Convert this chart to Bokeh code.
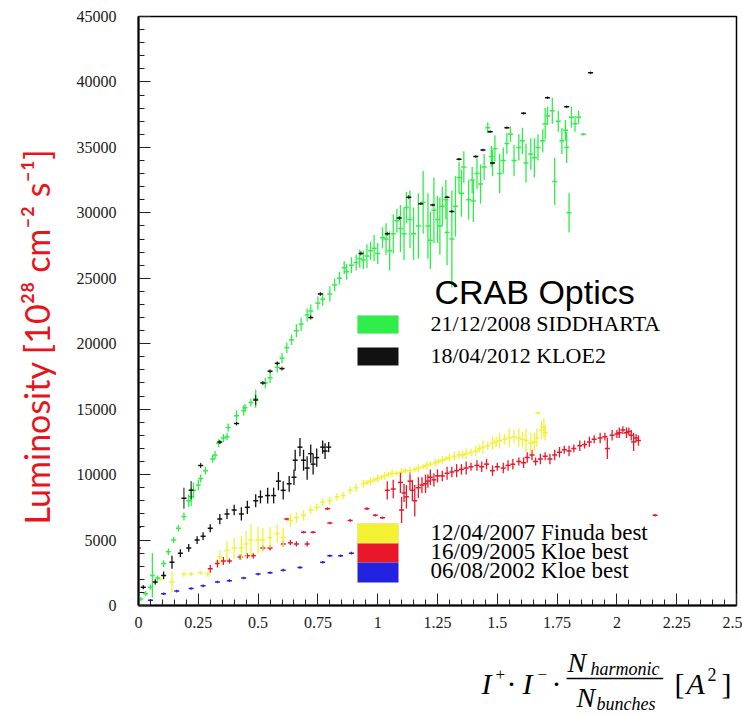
from bokeh.plotting import figure
from bokeh.models import ColumnDataSource, Label, BoxAnnotation, FixedTicker
from bokeh.layouts import row, column
from bokeh.embed import file_html
from bokeh.resources import INLINE
import math

# ---------------- data ----------------
x_ticks = [0.0, 0.25, 0.5, 0.75, 1.0, 1.25, 1.5, 1.75, 2.0, 2.25, 2.5]
x_tick_labels = ["0", "0.25", "0.5", "0.75", "1", "1.25", "1.5", "1.75", "2", "2.25", "2.5"]
y_ticks = [0, 5000, 10000, 15000, 20000, 25000, 30000, 35000, 40000, 45000]
y_tick_labels = ["0", "5000", "10000", "15000", "20000", "25000", "30000", "35000", "40000", "45000"]

# 21/12/2008 SIDDHARTA (green)
sid_x = [0.01, 0.03, 0.05, 0.058, 0.08, 0.105, 0.125, 0.147, 0.167, 0.19, 0.21, 0.22, 0.23, 0.25, 0.26,
         0.28, 0.31, 0.32, 0.335, 0.355, 0.37, 0.375, 0.41, 0.44, 0.445, 0.47, 0.49, 0.53, 0.55, 0.58,
         0.60, 0.62, 0.64, 0.66, 0.68, 0.705, 0.72, 0.75, 0.77, 0.80, 0.82, 0.84, 0.87, 0.91, 0.94,
         0.97, 1.00, 1.02, 1.05, 1.08, 1.11, 1.12, 1.15, 1.19, 1.21, 1.22, 1.25, 1.27, 1.29, 1.31,
         1.34, 1.36, 1.38, 1.40, 1.43, 1.46, 1.48, 1.49, 1.51, 1.54, 1.57, 1.59, 1.62, 1.64, 1.67,
         1.69, 1.71, 1.73, 1.74, 1.77, 1.79, 1.80, 1.81, 1.84, 1.86,
         0.86, 0.89, 0.925, 0.955, 0.985, 1.035, 1.065, 1.095, 1.135, 1.17, 1.235, 1.26, 1.285, 1.325,
         1.35, 1.395, 1.415, 1.445, 1.475, 1.525, 1.555, 1.605, 1.655, 1.70, 1.755, 1.785, 1.825]
sid_y = [500, 900, 1400, 2300, 2100, 3200, 4100, 5000, 5900, 6800, 8000, 8300, 8800, 9200, 9700,
         10300, 11200, 11500, 12400, 12800, 12900, 13600, 14500, 14900, 15100, 15500, 15800, 17000, 17400, 18200,
         18900, 19700, 20300, 21000, 21500, 22200, 22500, 23100, 23400, 23800, 24500, 25000, 25500, 26200, 26400,
         27100, 26900, 28100, 27100, 29400, 28400, 30400, 28400, 30800, 29000, 27900, 29500, 30500, 28500, 28000,
         32700, 33500, 31000, 30900, 32200, 36500, 33800, 34900, 33000, 35300, 34000, 35000, 33800, 34500, 35000,
         35500, 37400, 37800, 32400, 35500, 35000, 30000, 37300, 37300, 36000,
         25800, 26000, 26500, 26700, 27300, 28000, 28400, 28800, 29500, 29000, 30200, 29000, 31000, 30500,
         31500, 32500, 33000, 33500, 34300, 34000, 36000, 35500, 34200, 36800, 37000, 36300, 36800]
sid_err = [150, 200, 200, 1700, 200, 250, 250, 250, 250, 300, 500, 700, 600, 400, 300,
           300, 300, 300, 300, 300, 300, 300, 400, 400, 300, 300, 700, 400, 400, 400,
           400, 400, 400, 500, 500, 500, 500, 500, 500, 600, 500, 500, 600, 600, 700,
           700, 800, 800, 1500, 900, 2000, 1200, 2000, 2400, 2500, 2200, 1800, 1500, 2500, 3700,
           1200, 1200, 1500, 1600, 1500, 400, 1000, 1000, 1500, 800, 1200, 1000, 1500, 1200, 1000,
           900, 700, 1000, 1800, 1000, 1200, 1500, 800, 500, 100,
           500, 600, 700, 900, 1000, 1200, 1500, 1800, 2200, 2500, 2500, 2200, 1500, 2300,
           1800, 1000, 1200, 1000, 800, 1000, 600, 1000, 1500, 1200, 800, 800, 600]

# 18/04/2012 KLOE2 (black) - lower curve
kloe2_x = [0.0, 0.02, 0.07, 0.105, 0.14, 0.175, 0.21, 0.245, 0.27, 0.30, 0.34, 0.37, 0.40, 0.43, 0.455,
           0.49, 0.51, 0.54, 0.565, 0.585, 0.605, 0.63, 0.65, 0.655, 0.675, 0.69, 0.705, 0.72, 0.73,
           0.745, 0.77, 0.78, 0.795]
kloe2_y = [6000, 1400, 1800, 2300, 3300, 4000, 4400, 5000, 5300, 5900, 6600, 7000, 7300, 7000, 7500,
           8000, 8300, 8400, 8400, 9500, 8800, 9300, 9800, 11100, 12100, 11100, 10500, 11600, 10800,
           11300, 12100, 11800, 12100]
kloe2_err = [1000, 150, 200, 300, 500, 300, 300, 300, 300, 300, 400, 400, 400, 500, 500,
             500, 500, 600, 600, 700, 700, 600, 600, 800, 700, 800, 900, 700, 800,
             700, 500, 600, 400]
# 18/04/2012 KLOE2 (black) - markers along the SIDDHARTA curve
kloe2b_x = [0.19, 0.22, 0.26, 0.34, 0.41, 0.49, 0.52, 0.55, 0.58, 0.60, 0.72, 0.76, 0.93, 1.04, 1.09,
            1.13, 1.18, 1.23, 1.29, 1.31, 1.34, 1.41, 1.44, 1.47, 1.48, 1.54, 1.61, 1.71, 1.79, 1.89]
kloe2b_y = [8200, 8800, 10700, 12500, 13900, 15700, 17000, 17900, 18500, 18100, 22000, 23800, 26900, 28400, 29600,
            31200, 30700, 30600, 31200, 30100, 34100, 34300, 34800, 36200, 33800, 36500, 37600, 38800, 38100, 40700]
kloe2b_err = [800, 700, 200, 150, 150, 400, 150, 150, 150, 150, 150, 150, 150, 150, 150,
              150, 100, 100, 100, 100, 100, 100, 100, 100, 100, 100, 100, 100, 100, 100]

# 12/04/2007 Finuda best (yellow)
fin_x = [0.09, 0.14, 0.19, 0.22, 0.26, 0.29, 0.34, 0.37, 0.40, 0.43, 0.45, 0.47, 0.50, 0.52, 0.55,
         0.58, 0.605, 0.635, 0.66, 0.69, 0.72, 0.745, 0.77, 0.80, 0.83, 0.855, 0.885, 0.91, 0.94, 0.97,
         1.00, 1.03, 1.06, 1.10, 1.135, 1.17, 1.205, 1.24, 1.27, 1.30, 1.34, 1.37, 1.41, 1.44, 1.48,
         1.51, 1.55, 1.59, 1.62, 1.64, 1.665, 1.685, 1.67, 1.70,
         0.955, 0.985, 1.015, 1.045, 1.08, 1.115, 1.155, 1.19, 1.22, 1.255, 1.285, 1.32, 1.355, 1.39,
         1.425, 1.46, 1.495, 1.53, 1.57, 1.605, 1.655, 1.695]
fin_y = [2000, 1800, 2400, 2400, 2500, 2400, 3700, 4200, 4400, 4400, 4700, 5000, 5000, 5000, 5200,
         5500, 5200, 6500, 6700, 6900, 7300, 7500, 7900, 8000, 8300, 8400, 8800, 9000, 9300, 9500,
         9700, 9900, 10100, 10200, 10300, 10500, 10700, 10900, 11100, 11300, 11500, 11600, 11800, 12100, 12400,
         12600, 12800, 12800, 12600, 12400, 12800, 13400, 14700, 13200,
         9400, 9600, 9800, 10000, 10100, 10300, 10400, 10600, 10800, 11000, 11200, 11400, 11500, 11700,
         12000, 12200, 12500, 12700, 12900, 12700, 12500, 13600]
fin_err = [150, 800, 200, 150, 150, 200, 500, 700, 800, 900, 1000, 1200, 1000, 900, 800,
           700, 700, 500, 400, 400, 300, 300, 300, 300, 300, 300, 300, 300, 300, 300,
           300, 300, 300, 300, 300, 300, 300, 300, 300, 300, 300, 400, 400, 500, 500,
           600, 700, 700, 900, 800, 700, 700, 100, 600,
           200, 200, 200, 200, 200, 200, 200, 200, 200, 200, 200, 300, 300, 300,
           300, 300, 400, 400, 500, 600, 700, 700]

# 16/09/2005 Kloe best (red)
k05_x = [0.0, 0.30, 0.33, 0.355, 0.38, 0.425, 0.455, 0.48, 0.52, 0.55, 0.605, 0.62, 0.635, 0.66, 0.69,
         0.705, 0.73, 0.79, 0.80, 0.885, 0.955, 0.99, 1.02, 1.04, 1.065, 1.095, 1.10, 1.12, 1.135, 1.155,
         1.17, 1.20, 1.22, 1.25, 1.29, 1.33, 1.37, 1.415, 1.455, 1.48, 1.525, 1.565, 1.61, 1.645, 1.68,
         1.72, 1.76, 1.80, 1.845, 1.885, 1.93, 1.96, 1.98, 2.01, 2.04, 2.06, 2.07, 2.09, 2.16,
         1.11, 1.145, 1.185, 1.21, 1.235, 1.27, 1.31, 1.35, 1.39, 1.435, 1.50, 1.545, 1.59, 1.625,
         1.66, 1.70, 1.74, 1.78, 1.82, 1.865, 1.905, 1.95, 2.0, 2.025, 2.05, 2.08]
k05_y = [4400, 2800, 3200, 3400, 3400, 3700, 3800, 3800, 4400, 4400, 4700, 6600, 4800, 4700, 5600,
         4700, 5600, 7400, 6300, 6500, 7400, 6900, 6700, 8800, 8900, 9400, 7300, 8300, 9500, 8000,
         9000, 9300, 9800, 9900, 10100, 10300, 10500, 10700, 10800, 10300, 10500, 10800, 10900, 11500, 11200,
         11200, 11700, 11800, 12200, 12500, 12800, 12000, 13000, 13200, 13200, 13000, 12500, 12600, 6900,
         8600, 8800, 9200, 9500, 9600, 9900, 10200, 10400, 10600, 10600, 10600, 10700, 11000, 11300,
         11000, 11400, 11500, 11900, 12000, 12300, 12700, 12900, 13100, 13400, 13300, 12800]
k05_err = [3800, 300, 300, 300, 200, 200, 200, 200, 200, 200, 200, 100, 200, 200, 100,
           200, 100, 100, 100, 100, 100, 100, 100, 700, 700, 800, 1000, 900, 700, 1200,
           800, 700, 600, 500, 500, 500, 500, 400, 400, 400, 400, 400, 400, 400, 400,
           400, 400, 400, 400, 400, 400, 800, 400, 400, 400, 400, 700, 400, 100,
           700, 800, 600, 500, 500, 400, 400, 400, 300, 400, 300, 400, 300, 400,
           300, 300, 400, 300, 300, 300, 300, 300, 300, 300, 300, 300]

# 06/08/2002 Kloe best (blue)
k02_x = [0.05, 0.105, 0.16, 0.22, 0.27, 0.33, 0.38, 0.44, 0.50, 0.55, 0.605, 0.675, 0.77, 0.80, 0.845, 0.89]
k02_y = [400, 900, 1100, 1300, 1500, 1800, 1900, 2100, 2400, 2500, 2700, 2900, 3300, 3800, 3800, 4000]
k02_err = [100, 100, 100, 100, 100, 100, 100, 100, 100, 100, 100, 100, 100, 100, 100, 100]

legend_title = "CRAB Optics"
legend_top = ["21/12/2008 SIDDHARTA", "18/04/2012 KLOE2"]
legend_bottom = ["12/04/2007 Finuda best", "16/09/2005 Kloe best", "06/08/2002 Kloe best"]
y_label = "Luminosity [10\u00b2\u2078 cm\u207b\u00b2 s\u207b\u00b9]"

GREEN = "#2fee4a"
BLACK = "#111111"
YELLOW = "#f2f232"
RED = "#e8182a"
BLUE = "#2222e0"

# ---------------- layout constants (page pixels) ----------------
LEFT_W = 56          # width of the strip holding the rotated y label
TOTAL_W, TOTAL_H = 742, 716
MAIN_H = 640         # height of main figure
FL, FT, FR, FB = 138, 16, 736, 605   # frame edges on the page

# ---------------- main figure ----------------
p = figure(width=TOTAL_W - LEFT_W, height=MAIN_H, x_range=(0, 2.5), y_range=(0, 45000),
           output_backend="svg", toolbar_location=None,
           min_border_left=FL - LEFT_W, min_border_right=TOTAL_W - FR,
           min_border_top=FT, min_border_bottom=MAIN_H - FB,
           background_fill_color="white", border_fill_color="white")
p.grid.visible = False
p.outline_line_color = "black"
p.outline_line_width = 1.5

for ax in (p.xaxis[0], p.yaxis[0]):
    ax.axis_line_width = 2
    ax.major_tick_in = 12
    ax.major_tick_out = 0
    ax.minor_tick_in = 6
    ax.minor_tick_out = 0
    ax.major_tick_line_color = "#222222"
    ax.minor_tick_line_color = "#222222"
    ax.major_label_text_font = "Liberation Serif"
    ax.major_label_text_font_size = "16px"
    ax.major_label_text_color = "#1a1a1a"

p.xaxis.ticker = FixedTicker(ticks=x_ticks, minor_ticks=[i * 0.05 for i in range(51)])
p.xaxis.major_label_overrides = {t: l for t, l in zip(x_ticks, x_tick_labels)}
p.xaxis.major_label_standoff = 11
p.yaxis.ticker = FixedTicker(ticks=y_ticks, minor_ticks=[i * 1000 for i in range(46)])
p.yaxis.major_label_overrides = {t: l for t, l in zip(y_ticks, y_tick_labels)}
p.yaxis.major_label_standoff = 22


def series(xs, ys, errs, color, width=1.3):
    src = ColumnDataSource(dict(
        x=xs, y=ys,
        lo=[y - e for y, e in zip(ys, errs)],
        hi=[y + e for y, e in zip(ys, errs)]))
    p.segment(x0="x", y0="lo", x1="x", y1="hi", source=src, line_color=color, line_width=width)
    p.scatter(x="x", y="y", source=src, marker="dash", size=5, line_color=color, line_width=1.5)


series(k02_x, k02_y, k02_err, BLUE)
series(k05_x, k05_y, k05_err, RED)
series(fin_x, fin_y, fin_err, YELLOW)
series(sid_x, sid_y, sid_err, GREEN)
series(kloe2_x, kloe2_y, kloe2_err, BLACK)
series(kloe2b_x, kloe2b_y, kloe2b_err, BLACK, width=1.0)


def lab(fig, ox, oy, text, px, py, size, font="Liberation Serif", style="normal", color="black",
        align="left", baseline="alphabetic", angle=0.0):
    # ox = page x of the figure frame's left edge, oy = page y of the frame's bottom edge
    if baseline == "alphabetic":
        py = py - 0.4 * size   # empirical correction of the rendered baseline
    fig.add_layout(Label(x=px - ox, y=oy - py, x_units="screen", y_units="screen", text=text,
                         text_font=font, text_font_size=f"{size}px", text_font_style=style,
                         text_color=color, text_align=align, text_baseline=baseline, angle=angle))


def box(fig, ox, oy, l, r, t, b, color):
    fig.add_layout(BoxAnnotation(left=l - ox, right=r - ox, top=oy - t, bottom=oy - b,
                                 left_units="screen", right_units="screen",
                                 top_units="screen", bottom_units="screen",
                                 fill_color=color, fill_alpha=1.0, line_color="#999999", line_width=0.5))


# legends inside the frame
lab(p, FL, FB, legend_title, 434, 305, 34, font="Liberation Sans")
for (t, b), c, txt in zip([(315, 333), (347, 365)], [GREEN, BLACK], legend_top):
    box(p, FL, FB, 357, 398, t, b, c)
    lab(p, FL, FB, txt, 430, b - 1, 22)
for (t, b), c, txt, bl in zip([(523, 543), (543, 562), (562, 582)], [YELLOW, RED, BLUE],
                              legend_bottom, [541, 560, 579]):
    box(p, FL, FB, 357, 398, t, b, c)
    lab(p, FL, FB, txt, 430, bl, 23)


def blank(w, h):
    f = figure(width=w, height=h, x_axis_type=None, y_axis_type=None,
               output_backend="svg", toolbar_location=None, min_border=0,
               background_fill_color="white", border_fill_color="white")
    f.outline_line_color = None
    f.grid.visible = False
    return f


# ---------------- left strip: y axis title ----------------
left = blank(LEFT_W, TOTAL_H)
lab(left, 0, TOTAL_H, y_label, 36, 336, 34, font="Lato", color="#e8141c",
    align="center", baseline="middle", angle=math.pi / 2)

# ---------------- bottom strip: x axis title (formula) ----------------
# the bottom strip's frame is aligned by the column layout with the main frame
bot = blank(TOTAL_W - LEFT_W, TOTAL_H - MAIN_H)
BX, BY = FL, TOTAL_H
lab(bot, BX, BY, "I", 481, 695, 30, style="italic")
lab(bot, BX, BY, "+", 495, 681, 17)
lab(bot, BX, BY, "\u00b7", 506, 695, 30)
lab(bot, BX, BY, "I", 522, 695, 30, style="italic")
lab(bot, BX, BY, "\u2212", 537, 681, 17)
lab(bot, BX, BY, "\u00b7", 551, 695, 30)
lab(bot, BX, BY, "N", 567, 673, 28, style="italic")
lab(bot, BX, BY, "harmonic", 590, 676, 18, style="italic")
lab(bot, BX, BY, "\u2500" * 10, 566, 678, 16, font="DejaVu Sans Mono", baseline="middle")
lab(bot, BX, BY, "N", 576, 708, 28, style="italic")
lab(bot, BX, BY, "bunches", 596, 711, 18, style="italic")
lab(bot, BX, BY, "[", 674, 695, 30)
lab(bot, BX, BY, "A", 686, 695, 30, style="italic")
lab(bot, BX, BY, "2", 707, 681, 18)
lab(bot, BX, BY, "]", 721, 695, 30)

layout = row(left, column(p, bot, spacing=0), spacing=0)
open("out.html", "w").write(file_html(layout, INLINE))
